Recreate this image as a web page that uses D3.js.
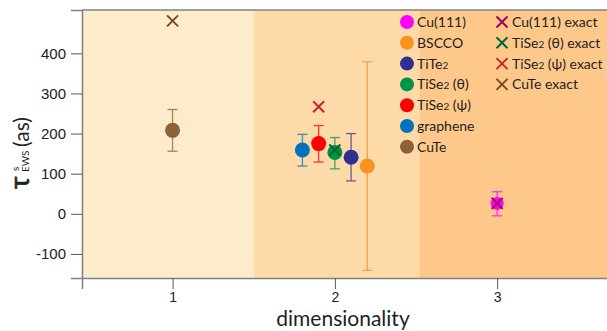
<!DOCTYPE html>
<html>
<head>
<meta charset="utf-8">
<script src="https://cdn.jsdelivr.net/npm/d3@7"></script>
<style>
  body { margin: 0; background: #fff; }
  svg { display: block; }
  .tick text { font-family: "Liberation Sans", Arial, sans-serif; font-size: 15px; fill: #222; }
  .xaxis .tick text { font-size: 14px; }
  .legend text { font-family: Lato, "Open Sans", sans-serif; font-size: 14px; fill: #231f20; }
</style>
</head>
<body>
<div id="chart"></div>
<script>
// data
var names = ["Cu(111)", "BSCCO", "TiTe2", "TiSe2 (θ)", "TiSe2 (ψ)", "graphene", "CuTe"];
var dims = [3.0, 2.2, 2.1, 2.0, 1.9, 1.8, 1.0];
var delays = [26, 119, 141, 153, 175, 159, 208];
var errHigh = [55, 379, 200, 190, 220, 198, 260];
var errLow = [-5, -141, 82, 112, 129, 119, 156];

var exactNames = ["Cu(111) exact", "TiSe2 (θ) exact", "TiSe2 (ψ) exact", "CuTe exact"];
var exactDims = [3.0, 2.0, 1.9, 1.0];
var exactDelays = [26, 159, 267, 481];

var xTicks = [1, 2, 3];
var yTicks = [-100, 0, 100, 200, 300, 400];
var bands = [[0.44, 1.5], [1.5, 2.52], [2.52, 3.8]];

var colors = ["#ff00ff", "#f7931e", "#2e3192", "#009245", "#ff0000", "#0071bc", "#8c6239"];
var exactColors = ["#9e005d", "#006837", "#c1272d", "#754c24"];
var bandColors = ["#feebcb", "#fddaa8", "#fec88b"];

var svgWidth = 607, svgHeight = 331;
var margin = {top: 10, right: -20, bottom: 53, left: 82};
var width = svgWidth - margin.left - margin.right;
var height = svgHeight - margin.top - margin.bottom;

var svg = d3.select("#chart").append("svg")
  .attr("width", svgWidth)
  .attr("height", svgHeight);

var chartGroup = svg.append("g")
  .attr("transform", `translate(${margin.left}, ${margin.top})`);

var x = d3.scaleLinear().domain([0.442, 3.8]).range([0, width]);
var y = d3.scaleLinear().domain([508, -160]).range([0, height]);

// background bands
chartGroup.selectAll("rect.band")
  .data(bands)
  .enter()
  .append("rect")
  .attr("class", "band")
  .attr("x", d => x(d[0]))
  .attr("width", d => x(d[1]) - x(d[0]))
  .attr("y", 0)
  .attr("height", height)
  .attr("fill", (d, i) => bandColors[i]);

// frame
chartGroup.append("line")
  .attr("x1", 0).attr("x2", width).attr("y1", 0).attr("y2", 0)
  .attr("stroke", "#808080").attr("stroke-width", 1.5);

// axes (plain hyphen for negatives, as in the original)
var fmt = d => String(d);
var bottomAxis = d3.axisBottom(x).tickValues(xTicks).tickSize(11).tickPadding(3).tickFormat(fmt);
var leftAxis = d3.axisLeft(y).tickValues(yTicks).tickSize(11).tickPadding(5).tickFormat(fmt);

var xg = chartGroup.append("g")
  .attr("class", "xaxis")
  .attr("transform", `translate(0, ${height})`)
  .call(bottomAxis);
var yg = chartGroup.append("g").call(leftAxis);

[xg, yg].forEach(function(g) {
  g.select(".domain").attr("stroke", "#808080").attr("stroke-width", 1.5);
  g.selectAll(".tick line").attr("stroke", "#555");
});

// error bars
var capW = 5;
var errGroup = chartGroup.append("g");
names.forEach(function(n, i) {
  var cx = x(dims[i]);
  var g = errGroup.append("g").attr("stroke", colors[i]).attr("stroke-width", 1.3).attr("opacity", 0.75);
  g.append("line").attr("x1", cx).attr("x2", cx).attr("y1", y(errHigh[i])).attr("y2", y(errLow[i]));
  g.append("line").attr("x1", cx - capW).attr("x2", cx + capW).attr("y1", y(errHigh[i])).attr("y2", y(errHigh[i]));
  g.append("line").attr("x1", cx - capW).attr("x2", cx + capW).attr("y1", y(errLow[i])).attr("y2", y(errLow[i]));
});

// points
chartGroup.selectAll("circle.pt")
  .data(names)
  .enter()
  .append("circle")
  .attr("class", "pt")
  .attr("cx", (d, i) => x(dims[i]))
  .attr("cy", (d, i) => y(delays[i]))
  .attr("r", (d, i) => i === 0 ? 6.5 : 7.5)
  .attr("fill", (d, i) => colors[i]);

// exact values as crosses
function cross(g, cx, cy, s, color) {
  g.append("path")
    .attr("d", `M${cx - s},${cy - s}L${cx + s},${cy + s}M${cx - s},${cy + s}L${cx + s},${cy - s}`)
    .attr("stroke", color)
    .attr("stroke-width", 2)
    .attr("fill", "none");
}
exactNames.forEach(function(n, i) {
  cross(chartGroup, x(exactDims[i]), y(exactDelays[i]), 5.5, exactColors[i]);
});

// legend
function legendLabel(t, lx, ly, label) {
  var txt = t.append("text").attr("x", lx).attr("y", ly).attr("dy", "0.35em");
  var m = label.match(/^(TiSe|TiTe)2(.*)$/);
  if (m) {
    txt.append("tspan").text(m[1]);
    txt.append("tspan").text("2").attr("font-size", "10px");
    txt.append("tspan").text(m[2]);
  } else {
    txt.text(label);
  }
}

var legend = svg.append("g").attr("class", "legend");
var rowH = 20.8;
names.forEach(function(n, i) {
  var ly = 22 + i * rowH;
  legend.append("circle").attr("cx", 407).attr("cy", ly).attr("r", 7).attr("fill", colors[i]);
  legendLabel(legend, 417, ly, n);
});
exactNames.forEach(function(n, i) {
  var ly = 22 + i * rowH;
  cross(legend, 502, ly, 5.5, exactColors[i]);
  legendLabel(legend, 512, ly, n);
});

// axis labels
svg.append("text")
  .attr("x", 343)
  .attr("y", 326)
  .attr("text-anchor", "middle")
  .attr("font-family", "Lato, 'Open Sans', sans-serif")
  .attr("font-size", "21px")
  .attr("fill", "#231f20")
  .text("dimensionality");

var yl = svg.append("g")
  .attr("transform", "translate(29, 189) rotate(-90)")
  .attr("font-family", "Lato, 'Open Sans', sans-serif")
  .attr("fill", "#231f20");
yl.append("text").attr("x", 0).attr("y", 0).attr("font-size", "27px")
  .attr("stroke", "#231f20").attr("stroke-width", 0.6).text("τ");
yl.append("text").attr("x", 17).attr("y", 0).attr("font-size", "10px").text("EWS");
yl.append("text").attr("x", 18).attr("y", -10).attr("font-size", "10px").text("s");
yl.append("text").attr("x", 42).attr("y", 0).attr("font-size", "21px").text("(as)");
</script>
</body>
</html>
